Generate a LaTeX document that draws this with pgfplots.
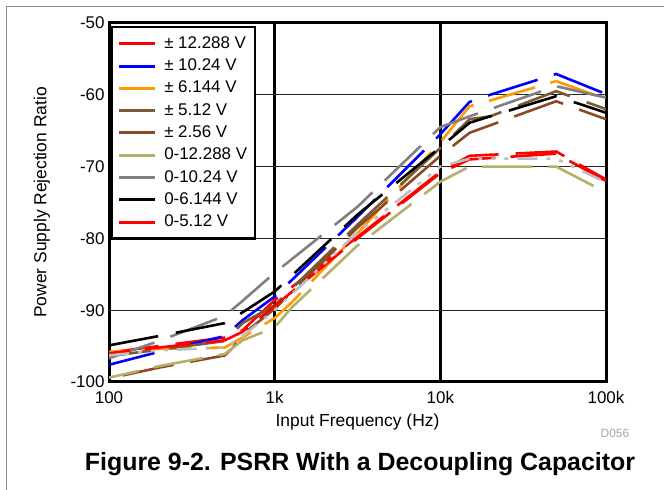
\documentclass[border=0pt]{standalone}
\usepackage{fontspec}
\setmainfont{Liberation Sans}
\usepackage{pgfplots}
\pgfplotsset{compat=1.18}
\definecolor{cRed}{RGB}{255,0,0}
\definecolor{cBlue}{RGB}{0,0,255}
\definecolor{cOrange}{RGB}{255,153,0}
\definecolor{cDkBrown}{RGB}{122,90,53}
\definecolor{cBrown}{RGB}{139,74,35}
\definecolor{cKhaki}{RGB}{179,176,106}
\definecolor{cGray}{RGB}{128,128,128}
\definecolor{cLtGray}{RGB}{190,190,190}
\begin{document}
\begin{tikzpicture}[x=1bp,y=1bp]
\useasboundingbox (0,0) rectangle (664,490);
\draw[black!45, line width=1bp] (6,0) -- (6,483) -- (664,483);
\begin{axis}[
  at={(109bp,108bp)}, anchor=south west,
  scale only axis, width=497bp, height=359bp,
  xmode=log, xmin=100, xmax=100000, ymin=-100, ymax=-50,
  xtick={100,1000,10000,100000}, xticklabels={100,1k,10k,100k},
  ytick={-100,-90,-80,-70,-60,-50},
  yticklabels={-100,-90,-80,-70,-60,-50},
  minor xtick={}, tick style={draw=none},
  axis line style={line width=3bp},
  xmajorgrids, ymajorgrids,
  x grid style={black, line width=3bp},
  y grid style={black!85, line width=1.2bp},
  ticklabel style={font=\fontsize{17}{20}\selectfont},
  xticklabel style={yshift=-6bp},
  yticklabel style={xshift=-1bp},
  label style={font=\fontsize{17.5}{20}\selectfont},
  xlabel={Input Frequency (Hz)},
  ylabel={Power Supply Rejection Ratio},
  xlabel style={at={(axis description cs:0.5,-0.111)}, anchor=center},
  ylabel style={at={(axis description cs:-0.135,0.5)}, anchor=center},
  legend style={at={(axis description cs:0,1)}, anchor=north west,
    xshift=1bp, yshift=-3bp, draw=black, line width=2.5bp,
    font=\fontsize{17}{20}\selectfont, row sep=3.3bp,
    inner xsep=6bp, inner ysep=7bp,
    nodes={inner sep=2bp, text height=12bp, text depth=3bp},
    /tikz/every odd column/.append style={column sep=6bp}},
  legend cell align=left,
  legend image code/.code={\draw[#1,solid,line width=3bp] (0bp,0bp) -- (36bp,0bp);},
  every axis plot/.append style={line width=2.6bp},
]
\addplot[cRed, dash pattern=on 50bp off 17bp] coordinates {
(100,-95.9)(200,-95.0)(500,-93.8)(640,-92.8)(1000,-88.6)(3160,-79.8)(10000,-70.7)(15000,-68.5)(50000,-67.9)(100000,-71.8)};
\addlegendentry{± 12.288 V}
\addplot[cBlue, dash pattern=on 52bp off 17bp, dash phase=5bp] coordinates {
(100,-97.6)(200,-95.8)(500,-93.6)(640,-91.4)(1000,-88.1)(3160,-77.0)(10000,-65.5)(15000,-61.0)(20000,-60.0)(50000,-57.1)(100000,-59.9)};
\addlegendentry{± 10.24 V}
\addplot[cOrange, dash pattern=on 48bp off 16bp, dash phase=30bp] coordinates {
(100,-95.8)(200,-95.4)(500,-95.2)(640,-93.8)(1000,-91.1)(1270,-88.9)(3160,-79.3)(10000,-66.6)(15000,-61.6)(20000,-60.8)(50000,-58.1)(100000,-60.6)};
\addlegendentry{± 6.144 V}
\addplot[cDkBrown, dash pattern=on 55bp off 18bp, dash phase=12bp] coordinates {
(100,-96.4)(200,-95.5)(500,-94.3)(640,-91.8)(1000,-89.3)(3160,-78.1)(10000,-67.4)(15000,-63.4)(20000,-63.0)(50000,-59.5)(100000,-62.0)};
\addlegendentry{± 5.12 V}
\addplot[cBrown, dash pattern=on 52bp off 17bp, dash phase=55bp] coordinates {
(100,-99.5)(200,-98.0)(500,-96.3)(560,-95.2)(640,-93.4)(1000,-89.8)(3160,-78.5)(10000,-68.5)(15000,-65.3)(22000,-63.9)(50000,-60.9)(100000,-63.4)};
\addlegendentry{± 2.56 V}
\addplot[cKhaki, dash pattern=on 50bp off 16bp, dash phase=20bp] coordinates {
(100,-99.4)(200,-97.8)(500,-96.1)(640,-94.2)(1000,-92.4)(1270,-89.6)(3160,-81.0)(10000,-72.1)(15000,-70.0)(50000,-70.0)(100000,-73.6)};
\addlegendentry{0-12.288 V}
\addplot[cGray, dash pattern=on 50bp off 17bp, dash phase=2bp] coordinates {
(100,-96.7)(200,-94.3)(500,-90.8)(640,-88.7)(1000,-84.8)(3160,-75.6)(10000,-64.5)(15000,-63.0)(20000,-62.0)(50000,-58.8)(100000,-60.4)};
\addlegendentry{0-10.24 V}
\addplot[black, dash pattern=on 50bp off 18bp] coordinates {
(100,-94.9)(200,-93.6)(500,-91.8)(640,-90.3)(1000,-87.4)(3160,-76.7)(10000,-67.3)(15000,-63.9)(20000,-63.0)(50000,-60.2)(100000,-62.5)};
\addlegendentry{0-6.144 V}
\addplot[cRed, dash pattern=on 46bp off 15bp, dash phase=25bp] coordinates {
(100,-96.0)(200,-95.2)(500,-94.2)(640,-93.0)(1000,-89.4)(3160,-80.0)(10000,-70.9)(15000,-69.0)(50000,-68.2)(100000,-72.0)};
\addlegendentry{0-5.12 V}
\addplot[cLtGray, forget plot, dash pattern=on 20bp off 9bp on 4bp off 9bp on 4bp off 9bp on 4bp off 9bp] coordinates {
(100,-96.3)(200,-95.6)(500,-95.2)(640,-93.6)(1000,-90.0)(3160,-79.2)(10000,-70.0)(15000,-68.9)(50000,-68.9)(100000,-72.2)};
\end{axis}
\node[text=black!35, font=\fontsize{12}{14}\selectfont] at (615,57) {D056};
\node[font=\fontsize{25}{29}\bfseries] at (360,26) {Figure 9-2. PSRR With a Decoupling Capacitor};
\end{tikzpicture}
\end{document}
